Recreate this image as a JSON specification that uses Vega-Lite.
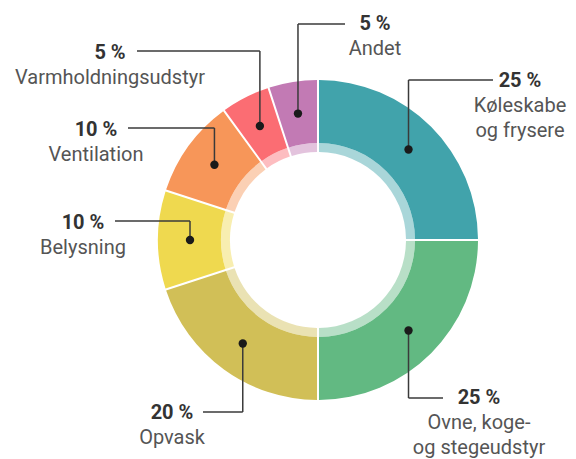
{
  "$schema": "https://vega.github.io/schema/vega-lite/v6.json",
  "width": 576,
  "height": 459,
  "autosize": "none",
  "padding": 0,
  "background": "white",
  "config": {"view": {"stroke": null}, "font": "Roboto", "text": {"font": "Roboto"}},
  "datasets": {
    "shares": [
      {"order": 1, "category": "Køleskabe og frysere", "pct": 25, "label": "Køleskabe\nog frysere"},
      {"order": 2, "category": "Ovne, koge- og stegeudstyr", "pct": 25, "label": "Ovne, koge-\nog stegeudstyr"},
      {"order": 3, "category": "Opvask", "pct": 20, "label": "Opvask"},
      {"order": 4, "category": "Belysning", "pct": 10, "label": "Belysning"},
      {"order": 5, "category": "Ventilation", "pct": 10, "label": "Ventilation"},
      {"order": 6, "category": "Varmholdningsudstyr", "pct": 5, "label": "Varmholdningsudstyr"},
      {"order": 7, "category": "Andet", "pct": 5, "label": "Andet"}
    ],
    "callouts": [
      {"category": "Køleskabe og frysere", "ex": 175, "ey": 160, "lx": 202, "ly": 159},
      {"category": "Ovne, koge- og stegeudstyr", "ex": 125, "ey": -158, "lx": 161, "ly": -158},
      {"category": "Opvask", "ex": -115, "ey": -172, "lx": -146, "ly": -173},
      {"category": "Belysning", "ex": -203, "ey": 19, "lx": -235, "ly": 17},
      {"category": "Ventilation", "ex": -190, "ey": 112, "lx": -222, "ly": 110},
      {"category": "Varmholdningsudstyr", "ex": -181, "ey": 189, "lx": -208, "ly": 187},
      {"category": "Andet", "ex": 27, "ey": 216, "lx": 57, "ly": 216}
    ]
  },
  "data": {"name": "shares"},
  "transform": [
    {"window": [{"op": "sum", "field": "pct", "as": "cum"}], "sort": [{"field": "order"}], "frame": [null, 0]},
    {"calculate": "(datum.cum - datum.pct / 2) / 100 * 2 * PI", "as": "mid"},
    {"calculate": "128 * sin(datum.mid)", "as": "dot_x"},
    {"calculate": "128 * cos(datum.mid)", "as": "dot_y"},
    {"calculate": "datum.pct + ' %'", "as": "pct_text"},
    {"lookup": "category", "from": {"data": {"name": "callouts"}, "key": "category", "fields": ["ex", "ey", "lx", "ly"]}}
  ],
  "layer": [
    {
      "mark": {"type": "arc", "outerRadius": 160, "innerRadius": 97, "padAngle": 0.0107},
      "encoding": {
        "theta": {"field": "pct", "type": "quantitative", "stack": true},
        "order": {"field": "order", "type": "quantitative"},
        "color": {
          "field": "category", "type": "nominal", "legend": null,
          "scale": {
            "domain": ["Køleskabe og frysere", "Ovne, koge- og stegeudstyr", "Opvask", "Belysning", "Ventilation", "Varmholdningsudstyr", "Andet"],
            "range": ["#41a3ab", "#62b982", "#d1bf57", "#efd94f", "#f79659", "#fb6d73", "#c27ab4"]
          }
        },
        "x": {"datum": 0, "type": "quantitative", "axis": null, "scale": {"domain": [-318, 258], "nice": false, "zero": false}},
        "y": {"datum": 0, "type": "quantitative", "axis": null, "scale": {"domain": [-219, 240], "nice": false, "zero": false}}
      }
    },
    {
      "mark": {"type": "arc", "outerRadius": 97, "innerRadius": 88, "padAngle": 0.0153, "opacity": 0.45},
      "encoding": {
        "theta": {"field": "pct", "type": "quantitative", "stack": true},
        "order": {"field": "order", "type": "quantitative"},
        "color": {"field": "category", "type": "nominal", "legend": null},
        "x": {"datum": 0, "type": "quantitative", "axis": null},
        "y": {"datum": 0, "type": "quantitative", "axis": null}
      }
    },
    {
      "mark": {"type": "rule", "color": "#3a3a3a", "strokeWidth": 1.5},
      "encoding": {
        "x": {"field": "dot_x", "type": "quantitative", "axis": null},
        "y": {"field": "dot_y", "type": "quantitative", "axis": null},
        "y2": {"field": "ey"}
      }
    },
    {
      "mark": {"type": "rule", "color": "#3a3a3a", "strokeWidth": 1.5},
      "encoding": {
        "x": {"field": "dot_x", "type": "quantitative", "axis": null},
        "x2": {"field": "ex"},
        "y": {"field": "ey", "type": "quantitative", "axis": null}
      }
    },
    {
      "mark": {"type": "point", "filled": true, "size": 70, "color": "#1a1a1a", "opacity": 1},
      "encoding": {
        "x": {"field": "dot_x", "type": "quantitative", "axis": null},
        "y": {"field": "dot_y", "type": "quantitative", "axis": null}
      }
    },
    {
      "mark": {"type": "text", "fontSize": 20, "fontWeight": "bold", "color": "#333333", "align": "center", "baseline": "middle"},
      "encoding": {
        "x": {"field": "lx", "type": "quantitative", "axis": null},
        "y": {"field": "ly", "type": "quantitative", "axis": null},
        "text": {"field": "pct_text"}
      }
    },
    {
      "mark": {"type": "text", "fontSize": 20, "color": "#555555", "align": "center", "baseline": "top", "dy": 15, "lineBreak": "\n", "lineHeight": 25},
      "encoding": {
        "x": {"field": "lx", "type": "quantitative", "axis": null},
        "y": {"field": "ly", "type": "quantitative", "axis": null},
        "text": {"field": "label"}
      }
    }
  ]
}
